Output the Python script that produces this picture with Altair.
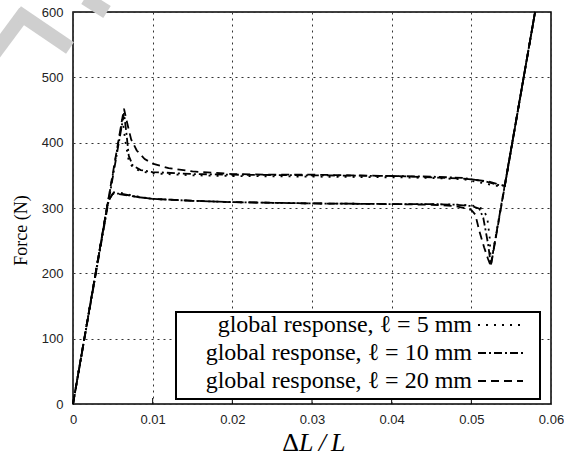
import altair as alt
import pandas as pd

# ---------------- data ----------------
series_names = ["l5", "l10", "l20"]
legend_labels = ["global response, ℓ = 5 mm",
                 "global response, ℓ = 10 mm",
                 "global response, ℓ = 20 mm"]
dash_patterns = [[2, 6], [8, 3, 2, 3], [8, 5]]

# upper (peaked) branch for each series
up_x_l5 = [0, 0.0062, 0.0066, 0.0070, 0.0075, 0.0085, 0.0100, 0.0150, 0.0200, 0.0300, 0.0400, 0.0450, 0.0490, 0.0515, 0.0530, 0.0542, 0.0580]
up_y_l5 = [0, 436, 400, 372, 362, 356, 353, 350, 349, 348, 347, 346, 344, 338, 334, 334, 600]

up_x_l10 = [0, 0.0064, 0.0067, 0.0070, 0.0075, 0.0085, 0.0100, 0.0150, 0.0200, 0.0300, 0.0400, 0.0450, 0.0490, 0.0520, 0.0535, 0.0542, 0.0580]
up_y_l10 = [0, 445, 415, 380, 365, 358, 355, 352, 351, 350, 349, 348, 346, 340, 335, 334, 600]

up_x_l20 = [0, 0.0064, 0.0068, 0.0073, 0.0080, 0.0090, 0.0100, 0.0120, 0.0150, 0.0200, 0.0250, 0.0300, 0.0350, 0.0400, 0.0450, 0.0490, 0.0520, 0.0535, 0.0542, 0.0580]
up_y_l20 = [0, 452, 430, 405, 388, 375, 368, 361, 356, 352, 351, 351, 350, 349, 347, 345, 341, 336, 334, 600]

# lower branch for each series
lo_x_l5 = [0, 0.0044, 0.0050, 0.0060, 0.0080, 0.0100, 0.0150, 0.0200, 0.0300, 0.0400, 0.0450, 0.0490, 0.0505, 0.0515, 0.0520, 0.0523, 0.05245, 0.0580]
lo_y_l5 = [0, 310, 324, 323, 318, 314, 311, 309, 307, 306, 306, 305, 303, 298, 285, 255, 214, 600]

lo_x_l10 = [0, 0.0044, 0.0050, 0.0060, 0.0080, 0.0100, 0.0150, 0.0200, 0.0300, 0.0400, 0.0450, 0.0480, 0.0500, 0.0510, 0.0515, 0.0518, 0.0521, 0.05245, 0.0580]
lo_y_l10 = [0, 310, 322, 322, 317, 314, 311, 309, 307, 306, 306, 305, 303, 299, 285, 265, 245, 213, 600]

lo_x_l20 = [0, 0.0044, 0.0050, 0.0060, 0.0080, 0.0100, 0.0150, 0.0200, 0.0300, 0.0400, 0.0450, 0.0480, 0.0500, 0.0505, 0.0510, 0.0516, 0.0521, 0.05245, 0.0580]
lo_y_l20 = [0, 310, 322, 321, 317, 314, 311, 309, 307, 306, 305, 303, 297, 290, 265, 240, 222, 211, 600]

x_ticks = [0, 0.01, 0.02, 0.03, 0.04, 0.05, 0.06]
y_ticks = [0, 100, 200, 300, 400, 500, 600]

branches = {
    "l5": [(up_x_l5, up_y_l5), (lo_x_l5, lo_y_l5)],
    "l10": [(up_x_l10, up_y_l10), (lo_x_l10, lo_y_l10)],
    "l20": [(up_x_l20, up_y_l20), (lo_x_l20, lo_y_l20)],
}

rows = []
for s in series_names:
    for bi, (xs, ys) in enumerate(branches[s]):
        for i, (xv, yv) in enumerate(zip(xs, ys)):
            rows.append({"x": xv, "y": yv, "series": s, "key": f"{s}_{bi}", "ord": i})
df = pd.DataFrame(rows)

W, H = 478, 392
SERIF = "Liberation Serif"
SANS = "Liberation Sans"

xscale = alt.Scale(domain=[0, 0.06], nice=False, zero=False)
yscale = alt.Scale(domain=[0, 600], nice=False)

lines = alt.Chart(df).mark_line(color="black", strokeWidth=1.8).encode(
    x=alt.X("x:Q", scale=xscale,
            axis=alt.Axis(values=x_ticks, format=".2~f", title=None,
                          labelFont=SANS, labelFontSize=13, labelColor="#222",
                          labelPadding=9, labelFlush=False)),
    y=alt.Y("y:Q", scale=yscale,
            axis=alt.Axis(values=y_ticks, format="d",
                          title="Force (N)", titleFont=SERIF, titleFontSize=18,
                          titleFontWeight="normal", titleColor="black",
                          titleAngle=-90, titleX=-52, titleY=218,
                          titleAlign="center", titleBaseline="middle",
                          labelFont=SANS, labelFontSize=13, labelColor="#222",
                          labelPadding=10)),
    strokeDash=alt.StrokeDash("series:N",
                              scale=alt.Scale(domain=series_names, range=dash_patterns),
                              legend=None),
    detail="key:N",
    order="ord:Q",
)

one = alt.Data(values=[{}])

layers = []

# watermark strokes (decoration, outside plot)
wm = [(-82, 46, -48, 0), (-56, 0, -3, 36), (12, -14, 34, 0)]
for (a, b, c, d) in wm:
    layers.append(alt.Chart(one).mark_rule(color="#cfcfcf", strokeWidth=14, strokeCap="butt").encode(
        x=alt.value(a), y=alt.value(b), x2=alt.value(c), y2=alt.value(d)))

layers.append(lines)

# legend box
layers.append(alt.Chart(one).mark_rect(fill="white", stroke="black", strokeWidth=2).encode(
    x=alt.value(103), x2=alt.value(467), y=alt.value(300), y2=alt.value(387)))

row_y = [313, 341, 369]
for lab, dash, yy in zip(legend_labels, dash_patterns, row_y):
    layers.append(alt.Chart(one).mark_text(font=SERIF, fontSize=24, align="right",
                                           baseline="middle", color="black").encode(
        x=alt.value(399), y=alt.value(yy), text=alt.value(lab)))
    layers.append(alt.Chart(one).mark_rule(color="black", strokeWidth=1.8, strokeDash=dash).encode(
        x=alt.value(405), x2=alt.value(450), y=alt.value(yy), y2=alt.value(yy)))

# inward bottom ticks
tick_df = pd.DataFrame({"x": x_ticks[1:-1]})
layers.append(alt.Chart(tick_df).mark_rule(color="black", strokeWidth=1).encode(
    x=alt.X("x:Q", scale=xscale), y=alt.value(H), y2=alt.value(H - 6)))

# x-axis title: "Δ" upright + "L/L" italic
layers.append(alt.Chart(one).mark_text(font=SERIF, fontSize=26, align="right",
                                       baseline="alphabetic", color="black").encode(
    x=alt.value(226), y=alt.value(439), text=alt.value("Δ")))
layers.append(alt.Chart(one).mark_text(font=SERIF, fontSize=26, fontStyle="italic", align="left",
                                       baseline="alphabetic", color="black").encode(
    x=alt.value(226), y=alt.value(439), text=alt.value("L\u2009/\u2009L")))

chart = alt.layer(*layers).properties(
    width=W, height=H,
    autosize=alt.AutoSizeParams(type="none"),
    padding={"left": 73, "top": 12, "right": 13, "bottom": 55},
    background="white",
).configure_view(
    stroke="black", strokeWidth=1.5, fill="white"
).configure_axis(
    domain=False, ticks=False, grid=True, gridDash=[2, 4], gridColor="#333",
    gridWidth=1,
)

chart.save("out.html", embed_options={"renderer": "svg", "actions": False})
